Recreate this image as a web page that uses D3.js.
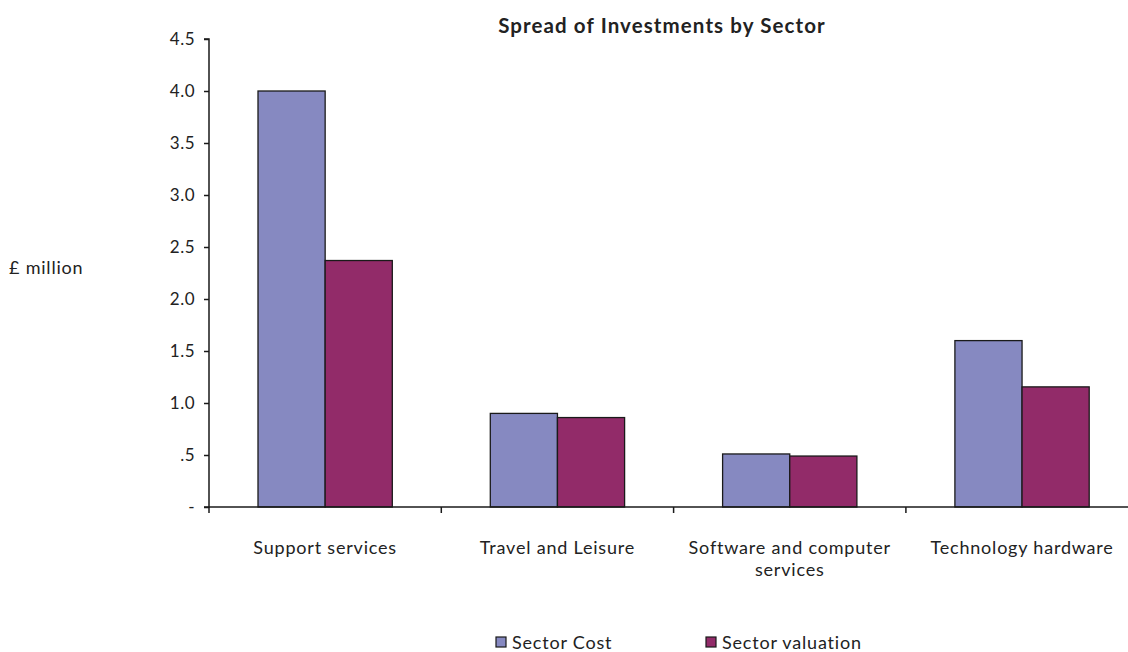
<!DOCTYPE html>
<html>
<head>
<title>Spread of Investments by Sector</title>
<script src="https://cdnjs.cloudflare.com/ajax/libs/d3/7.8.5/d3.min.js"></script>
<style>
  body { margin: 0; background: #fff; }
  text { font-family: Lato, "Open Sans", sans-serif; fill: #222; }
  .lbl { font-size: 18px; letter-spacing: 0.8px; }
</style>
</head>
<body>
<script>
// chart data
var sectors = ["Support services", "Travel and Leisure", "Software and computer services", "Technology hardware"];
var sectorLabels = [["Support services"], ["Travel and Leisure"], ["Software and computer", "services"], ["Technology hardware"]];
var seriesNames = ["Sector Cost", "Sector valuation"];
var sectorCost = [4.0, 0.9, 0.51, 1.6];
var sectorValuation = [2.37, 0.86, 0.49, 1.155];
var yTicks = [0, 0.5, 1.0, 1.5, 2.0, 2.5, 3.0, 3.5, 4.0, 4.5];
var colors = ["#8689c1", "#922b69"];

var width = 1128, height = 652;
var plotLeft = 209, plotTop = 39, plotBottom = 507;
var bandW = 232.3;

var svg = d3.select("body").append("svg")
  .attr("width", width)
  .attr("height", height);

var x = d3.scaleBand().domain(sectors).range([plotLeft, plotLeft + bandW * sectors.length]);
// bars ~67px with ~49px gap either side (excel gap width 150%)
var xInner = d3.scaleBand().domain(seriesNames).range([49, x.bandwidth() - 49]);
var y = d3.scaleLinear().domain([0, 4.5]).range([plotBottom, plotTop]);

var rows = sectors.map(function(s, i) { return { sector: s, values: [sectorCost[i], sectorValuation[i]] }; });

var groups = svg.selectAll("g.cat").data(rows).enter().append("g")
  .attr("class", "cat")
  .attr("transform", function(d) { return "translate(" + x(d.sector) + ",0)"; });

groups.selectAll("rect").data(function(d) { return d.values.map(function(v, j) { return { name: seriesNames[j], v: v, j: j }; }); })
  .enter().append("rect")
  .attr("x", function(d) { return xInner(d.name); })
  .attr("width", xInner.bandwidth())
  .attr("y", function(d) { return y(d.v); })
  .attr("height", function(d) { return plotBottom - y(d.v); })
  .attr("fill", function(d) { return colors[d.j]; })
  .attr("stroke", "#1a1a1a")
  .attr("stroke-width", 1.3);

// y axis
var yAxis = d3.axisLeft(y).tickValues(yTicks).tickSize(5).tickPadding(9)
  .tickFormat(function(d) { return d === 0 ? "-" : d < 1 ? ".5" : d3.format(".1f")(d); });
var ya = svg.append("g").attr("transform", "translate(" + plotLeft + ",0)").call(yAxis);
ya.select(".domain").attr("stroke", "#1a1a1a").attr("stroke-width", 1.5).attr("d", "M-5," + plotTop + "H0V" + plotBottom + "H-5");
ya.selectAll(".tick line").attr("stroke", "#1a1a1a").attr("stroke-width", 1.5);
ya.selectAll(".tick text").style("font-size", "17px").style("letter-spacing", "0.5px").attr("fill", "#222").attr("font-family", "Lato");

// x axis
var xEdges = d3.range(sectors.length + 1).map(function(i) { return plotLeft + i * x.bandwidth(); });
svg.append("line").attr("x1", plotLeft).attr("x2", xEdges[xEdges.length - 1]).attr("y1", plotBottom).attr("y2", plotBottom)
  .attr("stroke", "#1a1a1a").attr("stroke-width", 1.5);
svg.selectAll("line.xt").data(xEdges).enter().append("line").attr("class", "xt")
  .attr("x1", function(d) { return d; }).attr("x2", function(d) { return d; })
  .attr("y1", plotBottom).attr("y2", plotBottom + 6)
  .attr("stroke", "#1a1a1a").attr("stroke-width", 1.5);

svg.selectAll("text.xl").data(sectors).enter().append("text").attr("class", "xl lbl")
  .attr("text-anchor", "middle")
  .attr("y", 554)
  .each(function(d, i) {
    var t = d3.select(this);
    sectorLabels[i].forEach(function(line, k) {
      t.append("tspan").attr("x", x(d) + x.bandwidth() / 2).attr("dy", k === 0 ? 0 : 22).text(line);
    });
  });

// title
svg.append("text").attr("x", 662).attr("y", 33).attr("text-anchor", "middle")
  .style("font-size", "20.5px").style("font-weight", "bold").style("letter-spacing", "1.1px")
  .text("Spread of Investments by Sector");

// y axis label
svg.append("text").attr("class", "lbl").attr("x", 9).attr("y", 274).text("£ million");

// legend
var legendX = [496, 706];
var lg = svg.selectAll("g.lg").data(seriesNames).enter().append("g").attr("class", "lg")
  .attr("transform", function(d, i) { return "translate(" + legendX[i] + ",637)"; });
lg.append("rect").attr("width", 10).attr("height", 10).attr("y", 0)
  .attr("fill", function(d, i) { return colors[i]; }).attr("stroke", "#1a1a1a").attr("stroke-width", 1.2);
lg.append("text").attr("class", "lbl").attr("x", 16).attr("y", 11.5).text(function(d) { return d; });
</script>
</body>
</html>
